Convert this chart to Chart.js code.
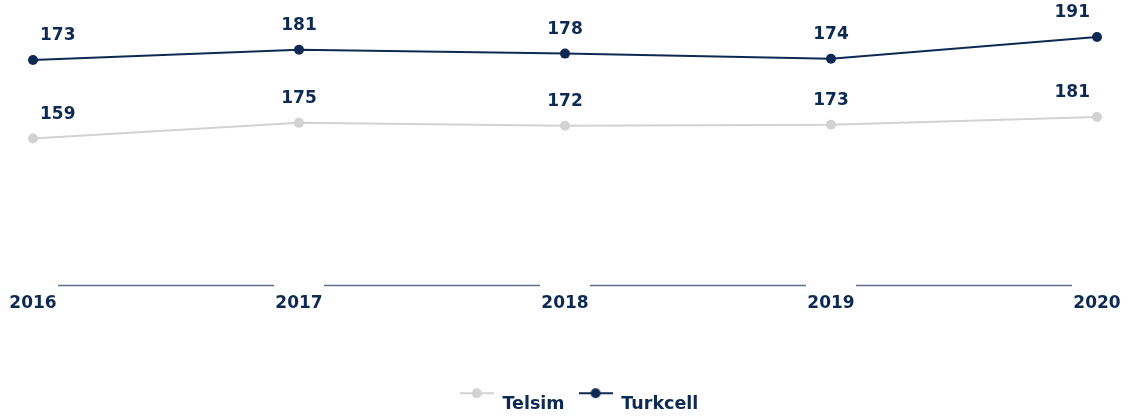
<!DOCTYPE html>
<html>
<head>
<meta charset="utf-8">
<script src="https://cdn.jsdelivr.net/npm/chart.js@4/dist/chart.umd.min.js"></script>
<style>
  html, body { margin: 0; padding: 0; background: #fff; }
  #wrap { width: 1132px; height: 418px; position: relative; }
</style>
</head>
<body>
<div id="wrap"><canvas id="subs"></canvas></div>
<script>
// values
const years = ['2016', '2017', '2018', '2019', '2020'];
const telsim = [159, 175, 172, 173, 181];
const turkcell = [173, 181, 178, 174, 191];

const navy = '#0e2a52';
const grey = '#d2d2d2';

// legend marker: short line with a dot, drawn a bit above the text
function makeMarker(color) {
    const c = document.createElement('canvas');
    c.width = 34;
    c.height = 40;
    const g = c.getContext('2d');
    const y = 9;
    g.strokeStyle = color;
    g.lineWidth = 2;
    g.beginPath();
    g.moveTo(0, y);
    g.lineTo(34, y);
    g.stroke();
    g.fillStyle = color;
    g.beginPath();
    g.arc(17, y, 5, 0, Math.PI * 2);
    g.fill();
    return c;
}
const markers = [makeMarker(grey), makeMarker(navy)];

// value labels above points, kept inside the chart area
const valueLabels = {
    id: 'valueLabels',
    afterDatasetsDraw(chart) {
        const ctx = chart.ctx;
        const area = chart.chartArea;
        ctx.save();
        ctx.font = 'bold 17px "DejaVu Sans"';
        ctx.fillStyle = navy;
        ctx.textAlign = 'center';
        ctx.textBaseline = 'middle';
        chart.data.datasets.forEach(function(ds, i) {
            const meta = chart.getDatasetMeta(i);
            meta.data.forEach(function(pt, j) {
                const txt = String(ds.data[j]);
                const w = ctx.measureText(txt).width;
                let x = pt.x;
                x = Math.max(x, area.left + 7 + w / 2);
                x = Math.min(x, area.right - 7 - w / 2);
                ctx.fillText(txt, x, pt.y - 24);
            });
        });
        ctx.restore();
    }
};

// broken axis line between the year labels
const axisSegments = {
    id: 'axisSegments',
    afterDraw(chart) {
        const ctx = chart.ctx;
        const xs = chart.scales.x;
        const y = chart.chartArea.bottom;
        ctx.save();
        ctx.strokeStyle = '#5d6e8c';
        ctx.lineWidth = 1.7;
        for (let i = 0; i < years.length - 1; i++) {
            const a = xs.getPixelForTick(i) + 25;
            const b = xs.getPixelForTick(i + 1) - 25;
            ctx.beginPath();
            ctx.moveTo(a, y);
            ctx.lineTo(b, y);
            ctx.stroke();
        }
        ctx.restore();
    }
};

// legend sits a little right of centre in the original
const legendShift = {
    id: 'legendShift',
    afterLayout(chart) {
        chart.legend.left += 14;
        chart.legend.right += 14;
    }
};

const chart = new Chart(document.getElementById('subs'), {
    type: 'line',
    data: {
        labels: years,
        datasets: [{
            label: 'Telsim',
            data: telsim,
            yAxisID: 'y',
            borderColor: grey,
            backgroundColor: grey,
            borderWidth: 2,
            pointRadius: 5,
            pointHoverRadius: 5,
            pointBackgroundColor: grey,
            pointBorderWidth: 0
        }, {
            label: 'Turkcell',
            data: turkcell,
            yAxisID: 'y1',
            borderColor: navy,
            backgroundColor: navy,
            borderWidth: 2,
            pointRadius: 5,
            pointHoverRadius: 5,
            pointBackgroundColor: navy,
            pointBorderWidth: 0
        }]
    },
    options: {
        responsive: true,
        maintainAspectRatio: false,
        animation: false,
        layout: { padding: { top: 20, left: 33, right: 35, bottom: -5 } },
        scales: {
            x: {
                offset: false,
                grid: { display: false, drawTicks: false },
                border: { display: false },
                ticks: {
                    color: navy,
                    font: { family: 'DejaVu Sans', size: 17, weight: 'bold' },
                    padding: 8,
                    maxRotation: 0,
                    autoSkip: false
                },
                afterFit(scale) { scale.height = 96; }
            },
            y: { display: false, min: 9, max: 280 },
            y1: { display: false, min: -3.5, max: 204.3 }
        },
        plugins: {
            tooltip: { enabled: false },
            legend: {
                position: 'bottom',
                labels: {
                    usePointStyle: true,
                    pointStyleWidth: 34,
                    padding: 14,
                    color: navy,
                    font: { family: 'DejaVu Sans', size: 17.5, weight: 'bold' },
                    generateLabels(ch) {
                        const items = Chart.defaults.plugins.legend.labels.generateLabels(ch);
                        items.forEach(function(it, i) { it.pointStyle = markers[i]; });
                        return items;
                    }
                }
            }
        }
    },
    plugins: [valueLabels, axisSegments, legendShift]
});
</script>
</body>
</html>
